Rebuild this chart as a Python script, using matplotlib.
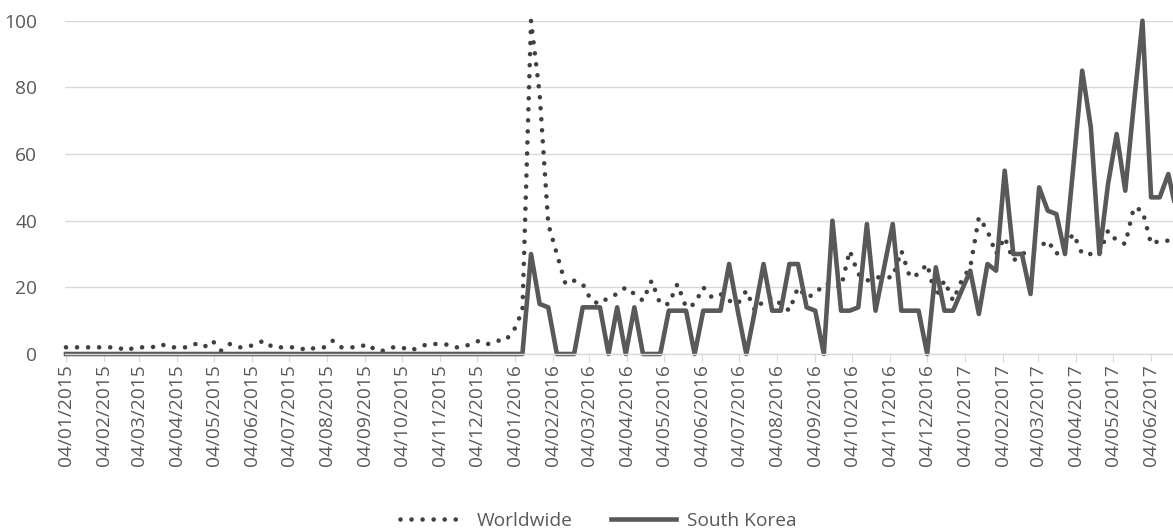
import matplotlib
matplotlib.use('Agg')
import matplotlib.pyplot as plt
import pandas as pd

# weekly search interest, Jan 2015 - Jun 2017
worldwide = [2, 2, 2, 2, 2, 2, 2, 1, 2, 2,
             2, 3, 2, 2, 2, 3, 2, 4, 1, 3,
             2, 2, 3, 4, 2, 2, 2, 2, 1, 2,
             2, 4, 2, 2, 2, 3, 1, 1, 2, 2,
             1, 2, 3, 3, 3, 2, 2, 3, 4, 3,
             4, 4, 7, 13, 100, 78, 39, 30, 21, 22,
             21, 16, 15, 17, 18, 20, 18, 16, 22, 15,
             15, 21, 14, 15, 20, 17, 18, 16, 15, 19,
             13, 16, 17, 15, 13, 20, 17, 18, 21, 21,
             20, 31, 24, 22, 23, 23, 23, 31, 23, 24,
             27, 17, 22, 16, 22, 26, 41, 37, 30, 35,
             28, 30, 31, 32, 34, 30, 33, 36, 30, 30,
             30, 37, 34, 33, 44, 43, 33, 34, 34, 34]

south_korea = [0, 0, 0, 0, 0, 0, 0, 0, 0, 0,
               0, 0, 0, 0, 0, 0, 0, 0, 0, 0,
               0, 0, 0, 0, 0, 0, 0, 0, 0, 0,
               0, 0, 0, 0, 0, 0, 0, 0, 0, 0,
               0, 0, 0, 0, 0, 0, 0, 0, 0, 0,
               0, 0, 0, 0, 30, 15, 14, 0, 0, 0,
               14, 14, 14, 0, 14, 0, 14, 0, 0, 0,
               13, 13, 13, 0, 13, 13, 13, 27, 13, 0,
               13, 27, 13, 13, 27, 27, 14, 13, 0, 40,
               13, 13, 14, 39, 13, 26, 39, 13, 13, 13,
               0, 26, 13, 13, 19, 25, 12, 27, 25, 55,
               30, 30, 18, 50, 43, 42, 30, 57, 85, 68,
               30, 51, 66, 49, 75, 100, 47, 47, 54, 42]

weeks = pd.date_range('2015-01-04', periods=len(worldwide), freq='7D')
tick_dates = pd.date_range('2015-01-04', '2017-06-04', freq=pd.DateOffset(months=1))
tick_labels = [d.strftime('%d/%m/%Y') for d in tick_dates]
y_ticks = [0, 20, 40, 60, 80, 100]

plt.rcParams['font.family'] = ['Open Sans', 'DejaVu Sans']
txt = '#595959'
grid = '#d9d9d9'
fs = 13.8

fig = plt.figure(figsize=(11.73, 5.32), dpi=100)
ax = fig.add_axes([65 / 1173, 178 / 532, 1108 / 1173, 333.3 / 532])

ax.plot(weeks, worldwide, color='#404040', lw=3.3, linestyle=(0, (0.01, 2.4)),
        dash_capstyle='round', label='Worldwide', clip_on=False)
ax.plot(weeks, south_korea, color='#595959', lw=3.3, label='South Korea', clip_on=False)

ax.set_xlim(weeks[0] - pd.Timedelta(days=0.8), weeks[0] + pd.Timedelta(days=899.8))
ax.set_ylim(0, 100)
ax.set_yticks(y_ticks)
ax.set_xticks(tick_dates)
ax.set_xticklabels(tick_labels, rotation=90)

ax.grid(axis='y', color=grid, lw=1)
ax.set_axisbelow(True)
for s in ['top', 'right', 'left']:
    ax.spines[s].set_visible(False)
ax.spines['bottom'].set_color(grid)
ax.spines['bottom'].set_linewidth(1)

ax.tick_params(axis='x', length=6, color=grid, labelcolor=txt, labelsize=fs, pad=1.5)
ax.tick_params(axis='y', length=0, labelcolor=txt, labelsize=fs, pad=20)

fig.legend(loc='center', bbox_to_anchor=(0.51, 0.021), ncol=2, frameon=False,
           fontsize=fs, handlelength=3.4, handletextpad=0.6, columnspacing=2.0,
           labelcolor=txt)

fig.savefig('out.png', dpi=100)
